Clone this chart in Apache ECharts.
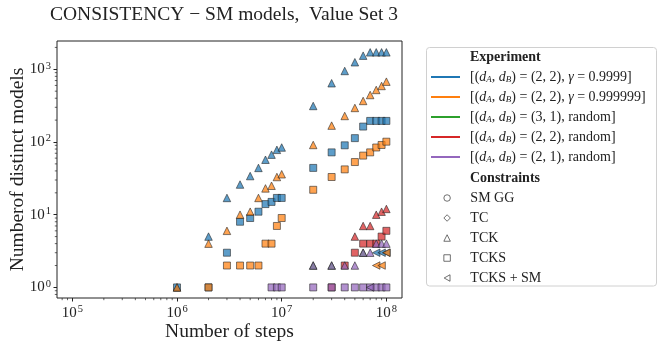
<!DOCTYPE html>
<html>
<head>
<meta charset="utf-8">
<script src="https://cdn.jsdelivr.net/npm/echarts@6/dist/echarts.min.js"></script>
<style>
  html, body { margin: 0; padding: 0; background: #fff; }
  #chart { width: 664px; height: 349px; }
</style>
</head>
<body>
<div id="chart"></div>
<script>
const n = null
const steps = [1e6, 2e6, 3e6, 4e6, 5e6, 6e6, 7e6, 8e6, 9e6, 1e7, 2e7, 3e7, 4e7, 5e7, 6e7, 7e7, 8e7, 9e7, 1e8]

// experiment 1: (2,2), gamma = 0.9999
const blueTCK = [1, 5, 17, 26, 34, 44, 57, 67, 78, 84, 313, 643, 948, 1250, 1540, 1710, 1710, 1710, 1710]
const blueTCKS = [1, 1, 3, 8, 9, 11, 14, 15, 17, 17, 44, 72, 90, 113, 163, 195, 195, 195, 195]
const blueTCKSSM = [n, n, n, n, n, n, n, n, n, n, n, n, n, n, n, n, 3, 3, 3]
// experiment 2: (2,2), gamma = 0.999999
const orangeTCK = [1, 4, 6, 10, 11, 17, 23, 25, 33, 36, 91, 168, 228, 294, 367, 443, 520, 590, 676]
const orangeTCKS = [n, 1, 2, 2, 2, 2, 4, 4, 7, 9, 22, 33, 42, 53, 65, 72, 84, 91, 101]
const orangeTCKSSM = [n, n, n, n, n, n, n, n, n, n, n, n, n, n, n, n, 2, 2, 3]
// experiment 3: (3,1), random (hidden under the later series)
const greenTCK = [n, n, n, n, n, n, n, n, n, n, 2, 2, n, n, 3, n, n, n, n]
// experiment 4: (2,2), random
const redTCK = [n, n, n, n, n, n, n, n, n, n, n, n, n, 5, 7, 7, 10, 11, 12]
const redTCKS = [n, n, n, n, n, n, n, n, n, n, n, 1, 2, 3, 4, 4, 4, 5, 6]
// experiment 5: (2,1), random
const purpleTCK = [n, n, n, n, n, n, n, n, n, n, 2, 2, 2, 2, 3, 3, 4, 4, 4]
const purpleTCKS = [n, n, n, n, n, n, n, 1, 1, 1, 1, 1, 1, 1, 1, 1, 1, 1, 1]
const purpleTCKSSM = [n, n, n, n, n, n, n, n, n, n, n, n, n, n, n, 1, n, n, n]

const expNames = [
  '[(dA, dB) = (2, 2), γ = 0.9999]',
  '[(dA, dB) = (2, 2), γ = 0.999999]',
  '[(dA, dB) = (3, 1), random]',
  '[(dA, dB) = (2, 2), random]',
  '[(dA, dB) = (2, 1), random]'
]
const expColors = ['#1f77b4', '#ff7f0e', '#2ca02c', '#d62728', '#9467bd']
const constraintNames = ['SM GG', 'TC', 'TCK', 'TCKS', 'TCKS + SM']

const xTicks = [1e5, 1e6, 1e7, 1e8]
const yTicks = [1, 10, 100, 1000]
const minorMult = [2, 3, 4, 5, 6, 7, 8, 9]

const xMin = 71400, xMax = 1.41e8
const yMin = 0.715, yMax = 2450

const leftTri = 'path://M0,5 L9,0 L9,10 Z'
const symbols = {
  'SM GG': 'circle',
  'TC': 'diamond',
  'TCK': 'triangle',
  'TCKS': 'rect',
  'TCKS + SM': leftTri
}

const groups = [
  [0, 'TCK', blueTCK], [0, 'TCKS', blueTCKS], [0, 'TCKS + SM', blueTCKSSM],
  [1, 'TCK', orangeTCK], [1, 'TCKS', orangeTCKS], [1, 'TCKS + SM', orangeTCKSSM],
  [2, 'TCK', greenTCK],
  [3, 'TCK', redTCK], [3, 'TCKS', redTCKS],
  [4, 'TCK', purpleTCK], [4, 'TCKS', purpleTCKS], [4, 'TCKS + SM', purpleTCKSSM]
]

const font = '"Liberation Serif", "DejaVu Serif", serif'

const series = groups.map(([e, c, arr], k) => ({
  name: expNames[e],
  type: 'scatter',
  symbol: symbols[c],
  symbolSize: c === 'TCKS' ? 7 : 7.5,
  z: 2 + k * 0.01,
  data: steps.map((s, i) => [s, arr[i]]).filter(p => p[1] != null),
  itemStyle: {
    color: expColors[e],
    opacity: 0.72,
    borderColor: '#222',
    borderWidth: 0.8
  },
  emphasis: { disabled: true }
}))

// empty series so the constraint legend has something to point at
constraintNames.forEach(c => {
  series.push({
    name: c,
    type: 'scatter',
    symbol: symbols[c],
    data: [],
    itemStyle: { color: '#fff', borderColor: '#333', borderWidth: 0.7 }
  })
})

// matplotlib style minor ticks
const minorX = []
const minorY = []
;[1e4, 1e5, 1e6, 1e7, 1e8].forEach(d => minorMult.forEach(m => {
  if (d * m > xMin && d * m < xMax) minorX.push(d * m)
}))
;[0.1, 1, 10, 100, 1000].forEach(d => minorMult.forEach(m => {
  if (d * m > yMin && d * m < yMax) minorY.push(d * m)
}))

series.push({
  type: 'custom',
  silent: true,
  clip: false,
  data: minorX.map(v => [v, yMin]),
  renderItem: (params, api) => {
    const p = api.coord([api.value(0), yMin])
    return { type: 'line', shape: { x1: p[0], y1: p[1], x2: p[0], y2: p[1] + 2.2 }, style: { stroke: '#222', lineWidth: 0.7 } }
  }
})
series.push({
  type: 'custom',
  silent: true,
  clip: false,
  data: minorY.map(v => [xMin, v]),
  renderItem: (params, api) => {
    const p = api.coord([xMin, api.value(1)])
    return { type: 'line', shape: { x1: p[0], y1: p[1], x2: p[0] - 2.2, y2: p[1] }, style: { stroke: '#222', lineWidth: 0.7 } }
  }
})

function richName(name) {
  return name
    .replace('dA', '{i|d}{s|A}')
    .replace('dB', '{i|d}{s|B}')
    .replace('γ', '{i|γ}')
}

const legendRich = {
  i: { fontFamily: font, fontStyle: 'italic', fontSize: 14, color: '#222' },
  s: { fontFamily: font, fontStyle: 'italic', fontSize: 9, color: '#222', verticalAlign: 'bottom', padding: [6, 0, 0, 0] }
}

const tickRich = {
  sup: { fontFamily: font, fontSize: 10.5, color: '#222', verticalAlign: 'top', padding: [0, 0, 7, 1] }
}

function tickFormatter(ticks) {
  return v => ticks.some(t => Math.abs(t - v) / t < 1e-6) ? '10{sup|' + Math.round(Math.log10(v)) + '}' : ''
}

const chart = echarts.init(document.getElementById('chart'))
chart.setOption({
  animation: false,
  title: [
    {
      text: 'CONSISTENCY − SM models,  Value Set 3',
      left: 50,
      top: 5,
      padding: 0,
      textStyle: { fontFamily: font, fontSize: 19.5, fontWeight: 'normal', color: '#222' }
    },
    {
      text: 'Experiment',
      left: 470,
      top: 50,
      padding: 0,
      textStyle: { fontFamily: font, fontSize: 14, fontWeight: 'bold', color: '#222' }
    },
    {
      text: 'Constraints',
      left: 470,
      top: 171,
      padding: 0,
      textStyle: { fontFamily: font, fontSize: 14, fontWeight: 'bold', color: '#222' }
    }
  ],
  graphic: [{
    type: 'rect',
    z: -1,
    shape: { x: 426.5, y: 47.5, width: 230, height: 238.5, r: 3 },
    style: { fill: '#fff', stroke: '#d0d0d0', lineWidth: 1 }
  }],
  legend: [
    {
      left: 431,
      top: 70,
      padding: 0,
      orient: 'vertical',
      itemWidth: 29,
      itemHeight: 2,
      itemGap: 6,
      selectedMode: false,
      data: expNames.map((name, i) => ({
        name,
        icon: 'rect',
        itemStyle: { color: expColors[i], opacity: 1, borderWidth: 0 }
      })),
      formatter: richName,
      textStyle: { fontFamily: font, fontSize: 14, color: '#222', lineHeight: 14, padding: [0, 0, 0, 5], rich: legendRich }
    },
    {
      left: 443.5,
      top: 191,
      padding: 0,
      orient: 'vertical',
      itemWidth: 6.5,
      itemHeight: 6.5,
      itemGap: 6,
      selectedMode: false,
      data: constraintNames.map(name => ({
        name,
        itemStyle: { color: '#fff', borderColor: '#333', borderWidth: 0.7, opacity: 1 }
      })),
      textStyle: { fontFamily: font, fontSize: 14, color: '#222', lineHeight: 14, padding: [0, 0, 0, 15] }
    }
  ],
  grid: {
    left: 57,
    right: 262,
    top: 41,
    bottom: 51,
    outerBoundsMode: 'none',
    containLabel: false,
    show: true,
    borderColor: '#222',
    borderWidth: 1
  },
  xAxis: {
    type: 'log',
    logBase: 10,
    min: xMin,
    max: xMax,
    name: 'Number of steps',
    nameLocation: 'middle',
    nameGap: 24,
    nameMoveOverlap: false,
    nameTextStyle: { fontFamily: font, fontSize: 19.5, color: '#222' },
    axisLine: { show: false },
    axisTick: { show: true, length: 3.5, lineStyle: { color: '#222' } },
    splitLine: { show: false },
    axisLabel: {
      showMinLabel: false,
      showMaxLabel: false,
      margin: 6,
      fontFamily: font,
      fontSize: 15,
      color: '#222',
      formatter: tickFormatter(xTicks),
      rich: tickRich
    }
  },
  yAxis: {
    type: 'log',
    logBase: 10,
    min: yMin,
    max: yMax,
    name: 'Numberof distinct models',
    nameLocation: 'middle',
    nameGap: 29,
    nameMoveOverlap: false,
    nameTextStyle: { fontFamily: font, fontSize: 19.5, color: '#222' },
    axisLine: { show: false },
    axisTick: { show: true, length: 3.5, lineStyle: { color: '#222' } },
    splitLine: { show: false },
    axisLabel: {
      showMinLabel: false,
      showMaxLabel: false,
      margin: 6,
      fontFamily: font,
      fontSize: 15,
      color: '#222',
      formatter: tickFormatter(yTicks),
      rich: tickRich
    }
  },
  series
})
</script>
</body>
</html>
